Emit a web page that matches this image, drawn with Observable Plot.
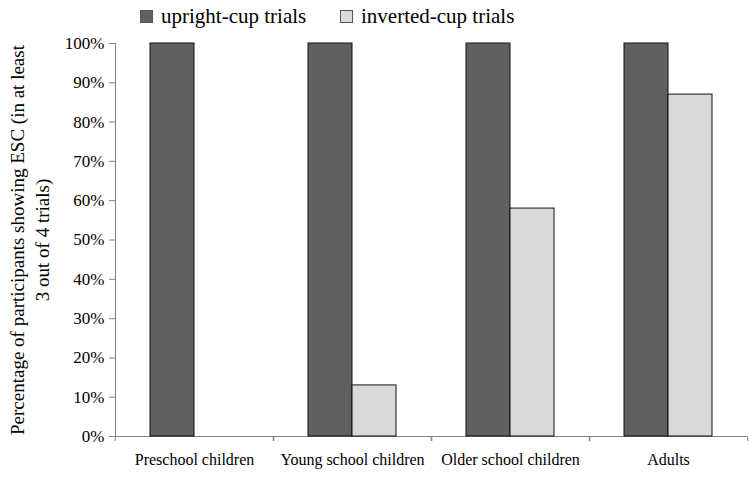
<!DOCTYPE html>
<html>
<head>
<meta charset="utf-8">
<script src="https://cdn.jsdelivr.net/npm/d3@7"></script>
<script src="https://cdn.jsdelivr.net/npm/@observablehq/plot@0.6"></script>
<style>
  body { margin: 0; background: #fff; font-family: "Liberation Serif", serif; }
  #wrap { position: relative; width: 750px; height: 477px; }
  #legend { position: relative; height: 30px; width: 750px; }
  .item { position: absolute; top: 3px; display: flex; align-items: center; font-family: "Liberation Serif", serif; font-size: 21px; line-height: 26px; color: #000; }
  .sw { width: 11px; height: 11px; border: 1px solid #555; margin-right: 8px; }
  #chart svg text { fill: #000; font-family: "Liberation Serif", serif; }
  #ylabel { position: absolute; left: 30px; top: 240px; width: 0; height: 0; }
  #ylabel div { position: absolute; transform: translate(-50%, -50%) rotate(-90deg); white-space: nowrap; text-align: center; font-family: "Liberation Serif", serif; font-size: 19px; line-height: 25px; color: #000; }
</style>
</head>
<body>
<div id="wrap">
<div id="legend"></div>
<div id="chart"></div>
<div id="ylabel"><div id="ylabelText"></div></div>
</div>
<script>
const categories = ["Preschool children", "Young school children", "Older school children", "Adults"];
const series = ["upright-cup trials", "inverted-cup trials"];
const upright = [100, 100, 100, 100];
const inverted = [0, 13, 58, 87];
const yTicks = [0, 10, 20, 30, 40, 50, 60, 70, 80, 90, 100];
const yTitle = ["Percentage of participants showing ESC (in at least", "3 out of 4 trials)"];
const colors = ["#606060", "#d9d9d9"];

const data = [];
categories.forEach((c, i) => {
  data.push({category: c, series: series[0], value: upright[i]});
  data.push({category: c, series: series[1], value: inverted[i]});
});

// legend
const legend = document.getElementById("legend");
const legendLeft = [140, 340];
series.forEach((s, i) => {
  const it = document.createElement("div");
  it.className = "item";
  it.style.left = legendLeft[i] + "px";
  const sw = document.createElement("div");
  sw.className = "sw";
  sw.style.background = colors[i];
  it.appendChild(sw);
  it.appendChild(document.createTextNode(s));
  legend.appendChild(it);
});

// y title
const yl = document.getElementById("ylabelText");
yTitle.forEach((t, i) => {
  if (i) yl.appendChild(document.createElement("br"));
  yl.appendChild(document.createTextNode(t));
});

const W = 750, ML = 114, MR = 2;
const bandW = (W - ML - MR) / categories.length;

const chart = Plot.plot({
  width: W,
  height: 447,
  marginTop: 13,
  marginBottom: 41,
  marginLeft: ML,
  marginRight: MR,
  style: {fontFamily: "'Liberation Serif', serif", fontSize: "17px", color: "#808080", background: "#fff"},
  fx: {domain: categories, padding: 0, label: null},
  x: {domain: series, paddingInner: 0, paddingOuter: 0.76, axis: null},
  y: {
    domain: [0, 100],
    ticks: yTicks,
    tickFormat: d => d + "%",
    tickSize: 6,
    tickPadding: 5,
    line: true,
    label: null
  },
  color: {domain: series, range: colors},
  marks: [
    Plot.ruleY([0], {stroke: "#808080"}),
    Plot.barY(data.filter(d => d.value > 0), {fx: "category", x: "series", y: "value", fill: "series", stroke: "#111", strokeWidth: 1}),
    Plot.axisFx({anchor: "bottom", tickSize: 0, tickPadding: 17, fontSize: 16, label: null}),
    Plot.axisFx({anchor: "bottom", tickSize: 5, tickFormat: () => "", dx: -bandW / 2, label: null}),
    Plot.axisFx(categories.slice(-1), {anchor: "bottom", tickSize: 5, tickFormat: () => "", dx: bandW / 2, label: null})
  ]
});
document.getElementById("chart").appendChild(chart);
</script>
</body>
</html>
